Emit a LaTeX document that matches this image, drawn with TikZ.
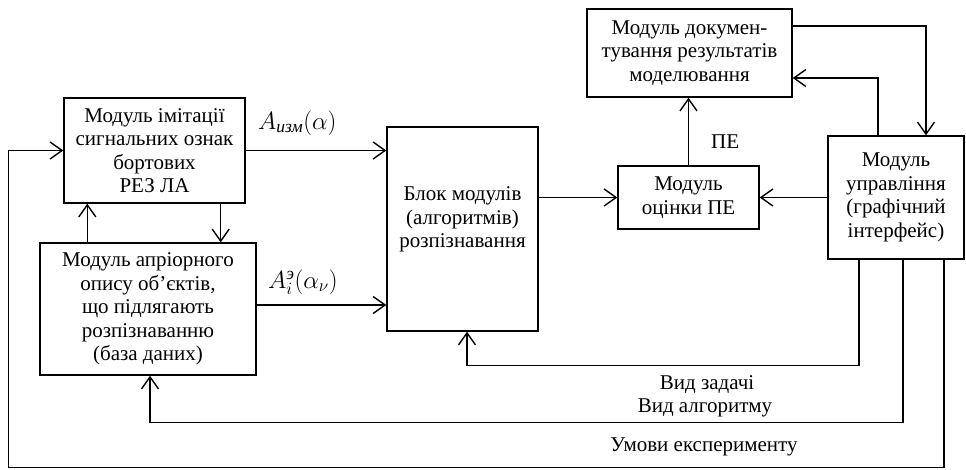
\documentclass[tikz,border=0pt]{standalone}
\usepackage{amsmath}
\usepackage{fontspec}
\setmainfont{Liberation Serif}
\newfontfamily\timesfont{Liberation Serif}
\usetikzlibrary{arrows.meta,positioning,calc}

\begin{document}
\begin{tikzpicture}[x=1pt, y=-1pt,
    module/.style={rectangle, draw, line width=1.4pt, align=center, inner sep=0pt, font=\timesfont\fontsize{21}{23.5}\selectfont},
    arrow/.style={->, >={Straight Barb[length=12pt,width=17pt]}, line width=1.4pt},
    note/.style={font=\timesfont\fontsize{21}{23.5}\selectfont, inner sep=0pt},
    formula/.style={font=\fontsize{25}{30}\selectfont, inner sep=0pt, anchor=west}
]
\useasboundingbox (0,0) rectangle (966,469);

\node[module, minimum width=181pt, minimum height=105pt] (imit) at (154.5,150.5) {
    Модуль імітації \\
    сигнальних ознак \\
    бортових \\
    РЕЗ ЛА
};

\node[module, minimum width=216pt, minimum height=132pt] (apr) at (148,309) {
    Модуль апріорного \\
    опису об’єктів, \\
    що підлягають \\
    розпізнаванню \\
    (база даних)
};

\node[module, minimum width=151pt, minimum height=204pt] (block) at (462.5,229) {
    Блок модулів \\
    (алгоритмів) \\
    розпізнавання \\
    \mbox{}
};

\node[module, minimum width=141pt, minimum height=63pt] (eval) at (688.5,197.5) {
    Модуль \\
    оцінки ПЕ
};

\node[module, minimum width=205pt, minimum height=88pt] (doc) at (689.5,53) {
    Модуль докумен- \\
    тування результатів \\
    моделювання
};

\node[module, minimum width=136pt, minimum height=123pt] (ctrl) at (896,197.5) {
    Модуль \\
    управління \\
    (графічний \\
    інтерфейс)
};

% inputs of the recognition block
\draw[arrow] (imit.east) -- (imit.east -| block.west);
\draw[arrow] ([yshift=4pt]apr.east) -- ([yshift=4pt]apr.east -| block.west);
\node[formula] (aizm) at (258,123) {$A_{\text{\timesfont\itshape изм}}(\alpha)$};
\node[formula] (ae) at (268,282) {$A_i^{\text{\timesfont\itshape э}}(\alpha_\nu)$};

% left pair
\draw[arrow] ([xshift=48pt]apr.north west) -- ([xshift=48pt]apr.north west |- imit.south);
\draw[arrow] ([xshift=-25pt]imit.south east) -- ([xshift=-25pt]imit.south east |- apr.north);

% right part
\draw[arrow] (eval.west -| block.east) -- (eval.west);
\draw[arrow] (eval.north) -- (eval.north |- doc.south) node[note, pos=0.35, right=22pt] (pe) {ПЕ};
\draw[arrow] (ctrl.west) -- (ctrl.west -| eval.east);
\draw[arrow] ([yshift=27pt]doc.east) -| ([xshift=30pt]ctrl.north);
\draw[arrow] ([xshift=-18pt]ctrl.north) |- ([yshift=-25pt]doc.east);

% feedback from the control module
\draw[arrow] ([xshift=-37pt]ctrl.south) -- ++(0,106) -| ([xshift=4.5pt]block.south);
\draw[arrow] ([xshift=7pt]ctrl.south) -- ++(0,163) -| ([xshift=2pt]apr.south);
\draw[arrow] ([xshift=48pt]ctrl.south) -- ++(0,208) -| ([xshift=-55pt]imit.west) -- (imit.west);

\node[note] (vz) at (707,385) {Вид задачі};
\node[note] (va) at (705,408) {Вид алгоритму};
\node[note] (ue) at (704,447) {Умови експерименту};

\end{tikzpicture}
\end{document}
